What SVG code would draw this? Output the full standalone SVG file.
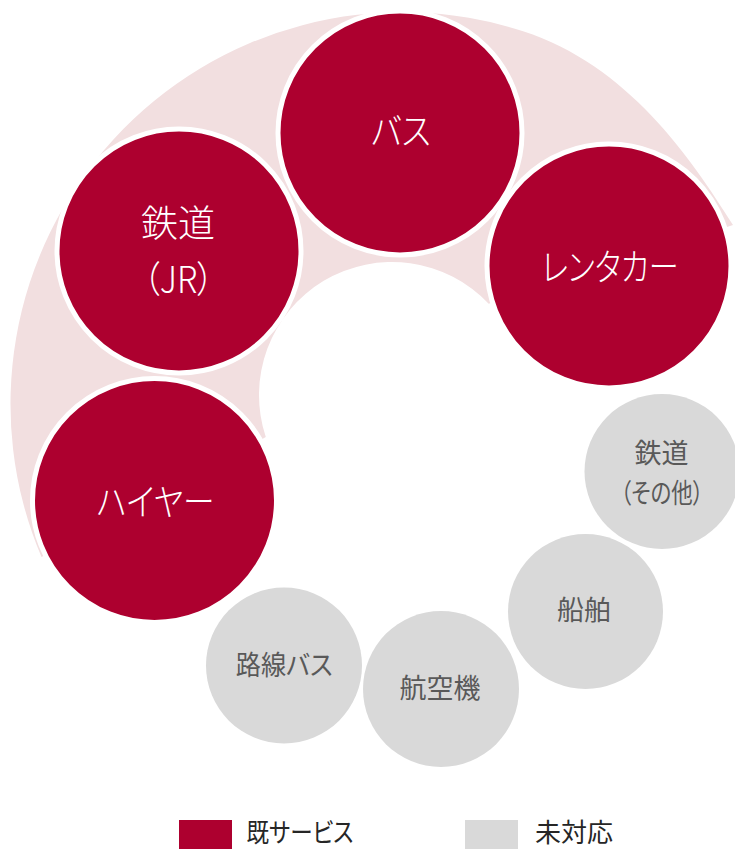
<svg xmlns="http://www.w3.org/2000/svg" width="735" height="849" viewBox="0 0 735 849">
  <style>
    .ring { fill: #F2DFE0; }
    .red { fill: #AD002F; stroke: #FFFFFF; stroke-width: 5; }
    .grey { fill: #D9D9D9; }
    text { font-family: "Noto Sans CJK JP", "Noto Sans", sans-serif; }
    .wl { fill: #FFFFFF; font-size: 37px; font-weight: 300; text-anchor: middle; }
    .gl { fill: #595959; font-size: 27px; text-anchor: middle; }
    .lg { fill: #262626; font-size: 26px; }
    .p { font-feature-settings: "palt" 1; }
  </style>
  <rect width="735" height="849" fill="#FFFFFF"/>
  <g id="ring">
    <path class="ring" d="M 41.5 557 A 392 392 0 0 1 523.1 31.2 C 627.7 65.2 690.6 157.2 733 225 L 609 266 L 488.7 303.7 A 133 133 0 0 0 265.8 437 L 154.5 500.5 Z"/>
  </g>
  <g id="connectors"></g>
  <g id="node-bus">
    <circle class="red" cx="400" cy="133" r="122"/>
    <text class="wl p" x="401" y="145" textLength="60" lengthAdjust="spacingAndGlyphs">バス</text>
  </g>
  <g id="node-jr">
    <circle class="red" cx="179" cy="251" r="122"/>
    <text class="wl" x="178" y="237">鉄道</text>
    <text class="wl p" x="178.5" y="293" font-size="33" textLength="71" lengthAdjust="spacingAndGlyphs">（JR）</text>
  </g>
  <g id="node-rentacar">
    <circle class="red" cx="609" cy="266" r="122"/>
    <text class="wl p" x="610" y="281" textLength="137" lengthAdjust="spacingAndGlyphs">レンタカー</text>
  </g>
  <g id="node-hire">
    <circle class="red" cx="154.5" cy="500.5" r="122"/>
    <text class="wl p" x="155.6" y="515.5" textLength="118" lengthAdjust="spacingAndGlyphs">ハイヤー</text>
  </g>
  <g id="node-rosenbus">
    <circle class="grey" cx="284" cy="665.5" r="78"/>
    <text class="gl p" x="284.2" y="674.5" textLength="97" lengthAdjust="spacingAndGlyphs">路線バス</text>
  </g>
  <g id="node-airplane">
    <circle class="grey" cx="441" cy="689" r="78"/>
    <text class="gl" x="440" y="697.5">航空機</text>
  </g>
  <g id="node-ship">
    <circle class="grey" cx="585.5" cy="611.5" r="77.5"/>
    <text class="gl" x="584" y="620.3">船舶</text>
  </g>
  <g id="node-rail-other">
    <circle class="grey" cx="662" cy="471.5" r="77.5"/>
    <text class="gl" x="661.4" y="463.3">鉄道</text>
    <text class="gl p" x="662" y="502.5" textLength="83" lengthAdjust="spacingAndGlyphs">（その他）</text>
  </g>
  <g id="legend">
    <rect x="179" y="820" width="53" height="30" fill="#AD002F"/>
    <text class="lg p" x="246.5" y="841.5" textLength="107" lengthAdjust="spacingAndGlyphs">既サービス</text>
    <rect x="465" y="820" width="53" height="30" fill="#D9D9D9"/>
    <text class="lg" x="535" y="841.5">未対応</text>
  </g>
</svg>
